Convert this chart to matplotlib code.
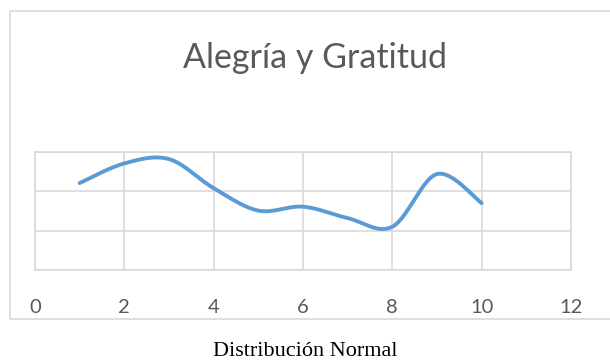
import matplotlib.pyplot as plt
import matplotlib.patches as patches
import numpy as np

x_vals = [1, 2, 3, 4, 5, 6, 7, 8, 9, 10]
y_vals = [2.21, 2.71, 2.82, 2.08, 1.51, 1.61, 1.32, 1.10, 2.44, 1.70]
x_ticks = [0, 2, 4, 6, 8, 10, 12]
titulo = 'Alegría y Gratitud'
pie = 'Distribución Normal'


def suavizar(xs, ys, n=40):
    # curva suave tipo Excel: Bezier cubica con tangentes Catmull-Rom
    p = np.column_stack([xs, ys]).astype(float)
    ext = np.vstack([p[0], p, p[-1]])
    out = []
    for i in range(len(p) - 1):
        p0, p1, p2, p3 = ext[i], ext[i + 1], ext[i + 2], ext[i + 3]
        c1 = p1 + (p2 - p0) / 6.0
        c2 = p2 - (p3 - p1) / 6.0
        t = np.linspace(0, 1, n)[:, None]
        seg = ((1 - t) ** 3) * p1 + 3 * ((1 - t) ** 2) * t * c1 + 3 * (1 - t) * t ** 2 * c2 + t ** 3 * p2
        out.append(seg if i == 0 else seg[1:])
    curva = np.vstack(out)
    return curva[:, 0], curva[:, 1]


W, H = 610, 364
fig = plt.figure(figsize=(W / 100, H / 100), dpi=100)
fig.patch.set_facecolor('white')

# marco del grafico
marco = patches.Rectangle((10 / W, 1 - 319 / H), (W + 10) / W, (319 - 11) / H,
                          transform=fig.transFigure, fill=False,
                          edgecolor='#d9d9d9', linewidth=1.2, clip_on=False)
fig.patches.append(marco)

ax = fig.add_axes([35 / W, 1 - 270 / H, (571 - 35) / W, (270 - 152) / H])
xs, ys = suavizar(x_vals, y_vals)
ax.plot(xs, ys, color='#5b9bd5', linewidth=2.8, solid_capstyle='round', zorder=3)

ax.set_xlim(0, 12)
ax.set_ylim(0, 3)
ax.set_xticks(x_ticks)
ax.set_xticklabels([str(v) for v in x_ticks], fontsize=14.5, color='#595959', family='Lato')
ax.set_yticks([0, 1, 2, 3])
ax.set_yticklabels([])
ax.tick_params(length=0)
ax.tick_params(axis='x', pad=21)
ax.grid(True, color='#d9d9d9', linewidth=1.2)
for s in ax.spines.values():
    s.set_color('#d9d9d9')
    s.set_linewidth(1.2)

fig.text(315 / W, 1 - 58 / H, titulo, ha='center', va='center',
         fontsize=24.5, color='#595959', family='Lato')
fig.text(305 / W, 1 - 351 / H, pie, ha='center', va='center',
         fontsize=16, color='black', family='Liberation Serif')

fig.savefig('out.png', dpi=100)
